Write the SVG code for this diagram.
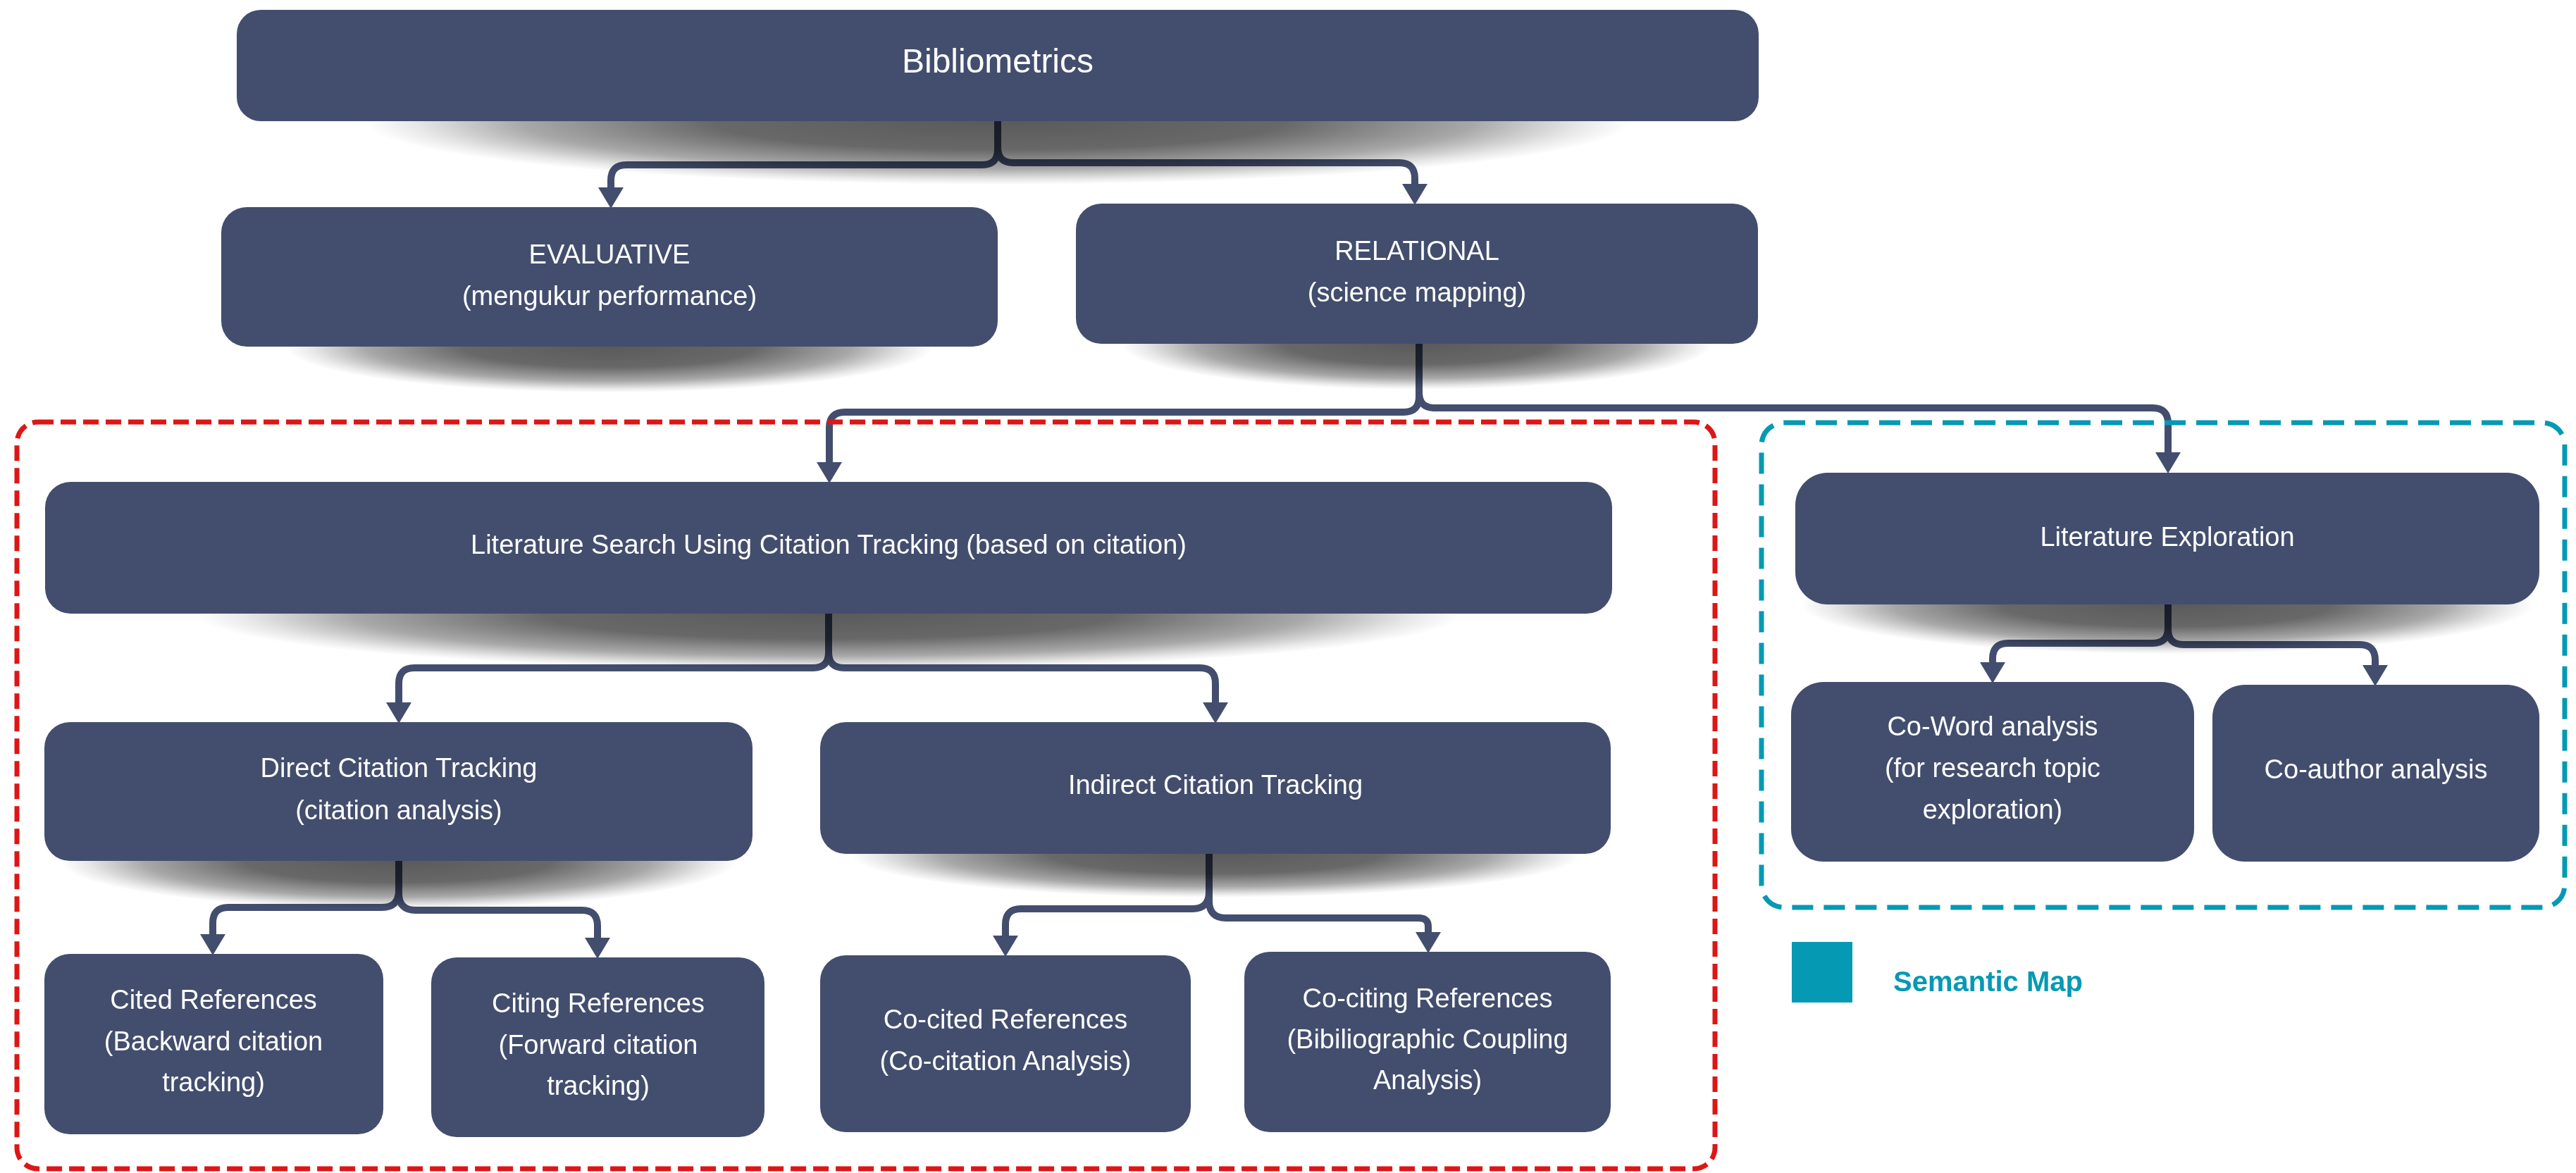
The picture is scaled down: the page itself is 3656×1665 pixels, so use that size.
<svg xmlns="http://www.w3.org/2000/svg" width="3656" height="1665" viewBox="0 0 3656 1665">
  <style>
    .node rect { fill: #434e6e; }
    .node text { fill: #ffffff; font-family: "Liberation Sans", Arial, sans-serif; font-size: 38px; text-anchor: middle; }
    .shadow { fill: url(#shade); mix-blend-mode: multiply; }
    .link { fill: none; stroke: #434e6e; stroke-width: 10; stroke-linejoin: round; marker-end: url(#head); }
    .frame { fill: none; stroke-width: 7; }
  </style>
  <defs>
    <radialGradient id="shade" cx="0.5" cy="0.5" r="0.5">
      <stop offset="0" stop-color="#5a5a5a"/>
      <stop offset="0.45" stop-color="#686868"/>
      <stop offset="0.75" stop-color="#a8a8a8"/>
      <stop offset="0.92" stop-color="#e8e8e8"/>
      <stop offset="1" stop-color="#ffffff"/>
    </radialGradient>
    <marker id="head" markerUnits="userSpaceOnUse" markerWidth="32" markerHeight="40" viewBox="0 0 32 40" refX="0" refY="20" orient="auto">
      <path d="M0,2 L30,20 L0,38 Q-2,20 0,2 Z" fill="#434e6e"/>
    </marker>
  </defs>
  <rect width="3656" height="1665" fill="#ffffff"/>

  <!-- connectors: each fork leaves the parent stem, splits and bends down into the child -->
  <g id="connectors">
    <path class="link" d="M1416,172 V212 Q1416,234 1394,234 H889 Q867,234 867,256 V266"/>
    <path class="link" d="M1416,172 V209 Q1416,231 1438,231 H1986 Q2008,231 2008,253 V261"/>

    <path class="link" d="M2014,488 V563 Q2014,585 1992,585 H1199 Q1177,585 1177,607 V656"/>
    <path class="link" d="M2014,488 V557 Q2014,579 2036,579 H3055 Q3077,579 3077,601 V642"/>

    <path class="link" d="M1176,871 V926 Q1176,948 1154,948 H588 Q566,948 566,970 V997"/>
    <path class="link" d="M1176,871 V926 Q1176,948 1198,948 H1703 Q1725,948 1725,970 V997"/>

    <path class="link" d="M3077,858 V891 Q3077,913 3055,913 H2850 Q2828,913 2828,935 V940"/>
    <path class="link" d="M3077,858 V893 Q3077,915 3099,915 H3349 Q3371,915 3371,937 V944"/>

    <path class="link" d="M566,1222 V1264 Q566,1288 542,1288 H324 Q302,1288 302,1310 V1326"/>
    <path class="link" d="M566,1222 V1268 Q566,1292 590,1292 H826 Q848,1292 848,1314 V1331"/>

    <path class="link" d="M1716,1212 V1266 Q1716,1290 1692,1290 H1449 Q1427,1290 1427,1312 V1328"/>
    <path class="link" d="M1716,1212 V1279 Q1716,1303 1740,1303 H2013 Q2027,1303 2027,1315 V1323"/>
  </g>

  <!-- soft ground shadows under the inner nodes -->
  <g id="shadows">
    <ellipse class="shadow" cx="1416" cy="172" rx="900" ry="90"/>
    <ellipse class="shadow" cx="865" cy="492" rx="460" ry="65"/>
    <ellipse class="shadow" cx="2011" cy="488" rx="420" ry="65"/>
    <ellipse class="shadow" cx="1176" cy="871" rx="900" ry="80"/>
    <ellipse class="shadow" cx="565" cy="1222" rx="480" ry="68"/>
    <ellipse class="shadow" cx="1725" cy="1212" rx="520" ry="62"/>
    <ellipse class="shadow" cx="3076" cy="858" rx="520" ry="70"/>
  </g>

  <g id="bibliometrics" class="node">
    <rect x="336" y="14" width="2160" height="158" rx="34"/>
    <text x="1416" y="103" style="font-size:48px">Bibliometrics</text>
  </g>
  <g id="evaluative" class="node">
    <rect x="314" y="294" width="1102" height="198" rx="36"/>
    <text x="865" y="374">EVALUATIVE<tspan x="865" y="433">(mengukur performance)</tspan></text>
  </g>
  <g id="relational" class="node">
    <rect x="1527" y="289" width="968" height="199" rx="36"/>
    <text x="2011" y="369">RELATIONAL<tspan x="2011" y="428">(science mapping)</tspan></text>
  </g>
  <g id="literature-search" class="node">
    <rect x="64" y="684" width="2224" height="187" rx="36"/>
    <text x="1176" y="786">Literature Search Using Citation Tracking (based on citation)</text>
  </g>
  <g id="direct-citation" class="node">
    <rect x="63" y="1025" width="1005" height="197" rx="36"/>
    <text x="566" y="1103">Direct Citation Tracking<tspan x="566" y="1163">(citation analysis)</tspan></text>
  </g>
  <g id="indirect-citation" class="node">
    <rect x="1164" y="1025" width="1122" height="187" rx="36"/>
    <text x="1725" y="1127">Indirect Citation Tracking</text>
  </g>
  <g id="cited-references" class="node">
    <rect x="63" y="1354" width="481" height="256" rx="36"/>
    <text x="303" y="1432">Cited References<tspan x="303" y="1491">(Backward citation</tspan><tspan x="303" y="1549">tracking)</tspan></text>
  </g>
  <g id="citing-references" class="node">
    <rect x="612" y="1359" width="473" height="255" rx="36"/>
    <text x="849" y="1437">Citing References<tspan x="849" y="1496">(Forward citation</tspan><tspan x="849" y="1554">tracking)</tspan></text>
  </g>
  <g id="co-cited-references" class="node">
    <rect x="1164" y="1356" width="526" height="251" rx="36"/>
    <text x="1427" y="1460">Co-cited References<tspan x="1427" y="1519">(Co-citation Analysis)</tspan></text>
  </g>
  <g id="co-citing-references" class="node">
    <rect x="1766" y="1351" width="520" height="256" rx="36"/>
    <text x="2026" y="1430">Co-citing References<tspan x="2026" y="1488">(Bibiliographic Coupling</tspan><tspan x="2026" y="1546">Analysis)</tspan></text>
  </g>
  <g id="literature-exploration" class="node">
    <rect x="2548" y="671" width="1056" height="187" rx="46"/>
    <text x="3076" y="775">Literature Exploration</text>
  </g>
  <g id="co-word-analysis" class="node">
    <rect x="2542" y="968" width="572" height="255" rx="46"/>
    <text x="2828" y="1044">Co-Word analysis<tspan x="2828" y="1103">(for research topic</tspan><tspan x="2828" y="1162">exploration)</tspan></text>
  </g>
  <g id="co-author-analysis" class="node">
    <rect x="3140" y="972" width="464" height="251" rx="46"/>
    <text x="3372" y="1105">Co-author analysis</text>
  </g>

  <!-- dashed group frames -->
  <g id="frames">
    <rect class="frame" x="24" y="599" width="2410" height="1060" rx="30" stroke="#dd1616" stroke-dasharray="22 10"/>
    <rect class="frame" x="2500" y="600" width="1140" height="688" rx="32" stroke="#0599b4" stroke-dasharray="30 15"/>
  </g>

  <!-- legend -->
  <g id="legend">
    <rect x="2543" y="1337" width="86" height="86" fill="#0599b4"/>
    <text x="2687" y="1407" fill="#0599b4" font-family="Liberation Sans, Arial, sans-serif" font-size="40" font-weight="bold">Semantic Map</text>
  </g>
</svg>
